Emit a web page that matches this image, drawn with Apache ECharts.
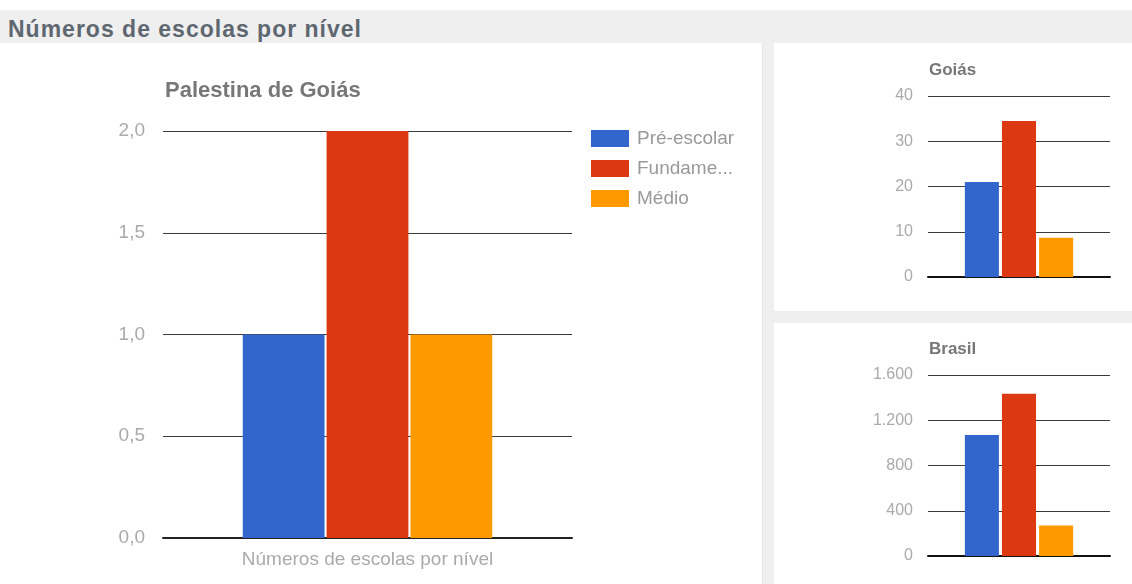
<!DOCTYPE html>
<html>
<head>
<meta charset="utf-8">
<title>Números de escolas por nível</title>
<script src="https://cdn.jsdelivr.net/npm/echarts@6/dist/echarts.min.js"></script>
<style>
    body { margin: 0; width: 1132px; height: 584px; background: #fff; position: relative; overflow: hidden; font-family: Arial, "Liberation Sans", sans-serif; }
    .header { position: absolute; left: 0; top: 10px; width: 1132px; height: 33px; background: #efefef; }
    .header h1 { position: absolute; left: 8px; top: 8px; margin: 0; font-size: 23px; line-height: 23px; font-weight: bold; color: #5e6770; letter-spacing: 1px; }
    .strip-v { position: absolute; left: 762px; top: 43px; width: 11px; height: 541px; background: #efefef; border-left: 1px solid #e6e6e6; }
    .strip-h { position: absolute; left: 773px; top: 311px; width: 359px; height: 12px; background: #efefef; }
    .chart { position: absolute; }
    .main { left: 0; top: 44px; width: 762px; height: 540px; }
    .goias { left: 773px; top: 44px; width: 359px; height: 267px; }
    .brasil { left: 773px; top: 323px; width: 359px; height: 261px; }
</style>
</head>
<body>
<div class="header"><h1>Números de escolas por nível</h1></div>
<div class="strip-v"></div>
<div class="strip-h"></div>
<div class="chart main"></div>
<div class="chart goias"></div>
<div class="chart brasil"></div>
<script>
// dados
var categorias = ['Números de escolas por nível'];
var niveis = ['Pré-escolar', 'Fundamental', 'Médio'];
var cores = ['#3366cc', '#dc3912', '#ff9900'];
var palestina = [1, 2, 1];
var goias = [21, 34.5, 8.7];
var brasil = [1070, 1435, 270];

var fonte = 'Arial, "Liberation Sans", sans-serif';

// cria as séries (uma por nível)
function criaSeries(valores, catGap, gap) {
    return niveis.map(function (nome, i) {
        return {
            name: nome,
            type: 'bar',
            data: [valores[i]],
            barCategoryGap: catGap,
            barGap: gap,
            itemStyle: { color: cores[i] }
        };
    });
}

// formato pt-BR
function milhar(v) {
    return String(v).replace(/\B(?=(\d{3})+(?!\d))/g, '.');
}

// gráfico principal - Palestina de Goiás
(function () {
    var myChart = echarts.init(document.querySelector('.main'));
    var option = {
        animation: false,
        textStyle: { fontFamily: fonte },
        title: {
            text: 'Palestina de Goiás',
            left: 165,
            top: 36,
            padding: 0,
            textStyle: { fontSize: 22, fontWeight: 'bold', color: '#777', fontFamily: fonte }
        },
        legend: {
            orient: 'vertical',
            left: 591,
            top: 85,
            padding: 0,
            itemWidth: 38,
            itemHeight: 17,
            itemGap: 11,
            icon: 'rect',
            data: niveis,
            textStyle: {
                fontSize: 19,
                color: '#999',
                fontFamily: fonte,
                width: 100,
                overflow: 'truncate',
                padding: [0, 0, 0, 3]
            }
        },
        grid: { left: 163, top: 87, width: 409, height: 407 },
        xAxis: {
            type: 'category',
            data: categorias,
            axisTick: { show: false },
            axisLine: { lineStyle: { color: '#222', width: 2 } },
            axisLabel: { color: '#aaa', fontSize: 19, margin: 12, fontFamily: fonte }
        },
        yAxis: {
            type: 'value',
            min: 0,
            max: 2,
            interval: 0.5,
            axisLine: { show: false },
            axisTick: { show: false },
            axisLabel: {
                color: '#aaa',
                fontSize: 19,
                margin: 18,
                fontFamily: fonte,
                formatter: function (v) { return v.toFixed(1).replace('.', ','); }
            },
            splitLine: { lineStyle: { color: '#3a3a3a' } }
        },
        series: criaSeries(palestina, '39%', '2.5%')
    };
    myChart.setOption(option);
})();

// gráficos pequenos - Goiás e Brasil
function pequeno(seletor, titulo, valores, maximo, passo) {
    var myChart = echarts.init(document.querySelector(seletor));
    var option = {
        animation: false,
        textStyle: { fontFamily: fonte },
        title: {
            text: titulo,
            left: 156,
            top: 18,
            padding: 0,
            textStyle: { fontSize: 17, fontWeight: 'bold', color: '#777', fontFamily: fonte }
        },
        grid: { left: 155, top: 52, width: 182, height: 181 },
        xAxis: {
            type: 'category',
            data: categorias,
            axisTick: { show: false },
            axisLine: { lineStyle: { color: '#111', width: 2 } },
            axisLabel: { show: false }
        },
        yAxis: {
            type: 'value',
            min: 0,
            max: maximo,
            interval: passo,
            axisLine: { show: false },
            axisTick: { show: false },
            axisLabel: {
                color: '#aaa',
                fontSize: 16,
                margin: 15,
                fontFamily: fonte,
                formatter: function (v) { return milhar(v); }
            },
            splitLine: { lineStyle: { color: '#3a3a3a' } }
        },
        series: criaSeries(valores, '40.5%', '9%')
    };
    myChart.setOption(option);
}
pequeno('.goias', 'Goiás', goias, 40, 10);
pequeno('.brasil', 'Brasil', brasil, 1600, 400);
</script>
</body>
</html>
